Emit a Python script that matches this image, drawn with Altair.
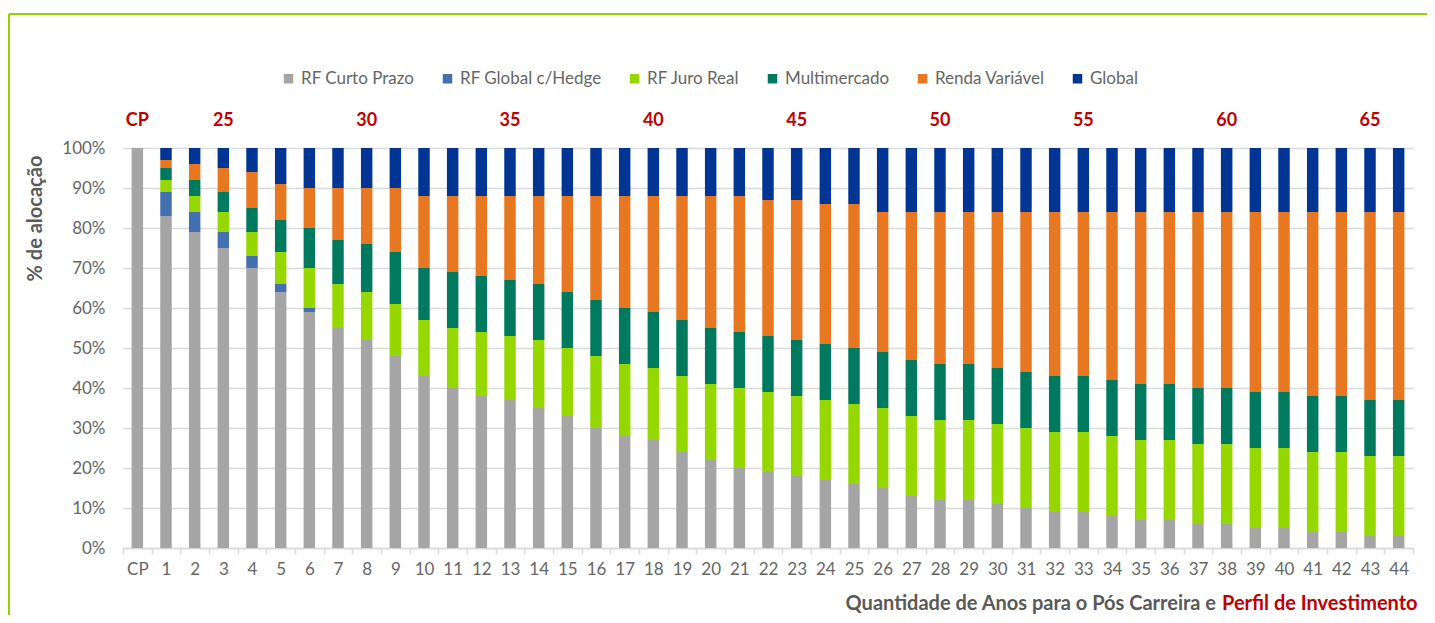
import altair as alt
import pandas as pd

categories = ["CP", "1", "2", "3", "4", "5", "6", "7", "8", "9", "10",
              "11", "12", "13", "14", "15", "16", "17", "18", "19", "20",
              "21", "22", "23", "24", "25", "26", "27", "28", "29", "30",
              "31", "32", "33", "34", "35", "36", "37", "38", "39", "40",
              "41", "42", "43", "44"]

series_names = ["RF Curto Prazo", "RF Global c/Hedge", "RF Juro Real",
                "Multimercado", "Renda Variável", "Global"]
series_colors = ["#A5A5A5", "#4470B0", "#97D700", "#007A5E", "#E87722", "#003594"]

rf_curto_prazo = [100, 83, 79, 75, 70, 64, 59, 55, 52, 48, 43,
                  40, 38, 37, 35, 33, 30, 28, 27, 24, 22,
                  20, 19, 18, 17, 16, 15, 13, 12, 12, 11,
                  10, 9, 9, 8, 7, 7, 6, 6, 5, 5,
                  4, 4, 3, 3]
rf_global_hedge = [0, 6, 5, 4, 3, 2, 1, 0, 0, 0, 0,
                   0, 0, 0, 0, 0, 0, 0, 0, 0, 0,
                   0, 0, 0, 0, 0, 0, 0, 0, 0, 0,
                   0, 0, 0, 0, 0, 0, 0, 0, 0, 0,
                   0, 0, 0, 0]
rf_juro_real = [0, 3, 4, 5, 6, 8, 10, 11, 12, 13, 14,
                15, 16, 16, 17, 17, 18, 18, 18, 19, 19,
                20, 20, 20, 20, 20, 20, 20, 20, 20, 20,
                20, 20, 20, 20, 20, 20, 20, 20, 20, 20,
                20, 20, 20, 20]
multimercado = [0, 3, 4, 5, 6, 8, 10, 11, 12, 13, 13,
                14, 14, 14, 14, 14, 14, 14, 14, 14, 14,
                14, 14, 14, 14, 14, 14, 14, 14, 14, 14,
                14, 14, 14, 14, 14, 14, 14, 14, 14, 14,
                14, 14, 14, 14]
renda_variavel = [0, 2, 4, 6, 9, 9, 10, 13, 14, 16, 18,
                  19, 20, 21, 22, 24, 26, 28, 29, 31, 33,
                  34, 34, 35, 35, 36, 35, 37, 38, 38, 39,
                  40, 41, 41, 42, 43, 43, 44, 44, 45, 45,
                  46, 46, 47, 47]
global_ = [0, 3, 4, 5, 6, 9, 10, 10, 10, 10, 12,
           12, 12, 12, 12, 12, 12, 12, 12, 12, 12,
           12, 13, 13, 14, 14, 16, 16, 16, 16, 16,
           16, 16, 16, 16, 16, 16, 16, 16, 16, 16,
           16, 16, 16, 16]

age_label_cats = ["CP", "3", "8", "13", "18", "23", "28", "33", "38", "43"]
age_label_texts = ["CP", "25", "30", "35", "40", "45", "50", "55", "60", "65"]

x_title_a = "Quantidade de Anos para o Pós Carreira e"
x_title_b = "Perfil de Investimento"
y_title = "% de alocação"

FONT = "Lato"
GRID = "#D9D9D9"
TXT = "#666666"

all_series = [rf_curto_prazo, rf_global_hedge, rf_juro_real,
              multimercado, renda_variavel, global_]
rows = []
for si, (name, vals) in enumerate(zip(series_names, all_series)):
    for c, v in zip(categories, vals):
        rows.append({"cat": c, "serie": name, "idx": si, "val": v})
df = pd.DataFrame(rows)

top_df = pd.DataFrame({"cat": age_label_cats, "label": age_label_texts})
one = pd.DataFrame({"a": [0]})

x_enc = alt.X(
    "cat:N", sort=categories,
    scale=alt.Scale(paddingInner=0, paddingOuter=0),
    axis=alt.Axis(title=None, labelAngle=0, tickBand="extent",
                  domainColor=GRID, domainWidth=1.5, tickColor=GRID,
                  tickSize=6, tickWidth=1.5, labelFont=FONT, labelFontSize=17,
                  labelColor=TXT, labelPadding=7, grid=False),
)

bars = alt.Chart(df).mark_bar(width=alt.RelativeBandSize(0.4)).encode(
    x=x_enc,
    y=alt.Y("val:Q", stack="zero",
            scale=alt.Scale(domain=[0, 100], nice=False),
            axis=alt.Axis(values=list(range(0, 101, 10)),
                          labelExpr="datum.value + '%'",
                          title=y_title, grid=True, gridColor=GRID,
                          gridWidth=1.5, domain=False, ticks=False,
                          labelPadding=18, labelFont=FONT, labelFontSize=17,
                          labelColor=TXT, titleX=-88, titleY=70,
                          titleAngle=270, titleAlign="center",
                          titleBaseline="middle", titleFont=FONT,
                          titleFontWeight="bold", titleColor="#595959",
                          titleFontSize=20)),
    color=alt.Color("serie:N",
                    scale=alt.Scale(domain=series_names, range=series_colors),
                    legend=alt.Legend(title=None, orient="none", legendX=157,
                                      legendY=-78, direction="horizontal",
                                      symbolType="square", symbolSize=90,
                                      symbolStrokeWidth=0, labelFont=FONT,
                                      labelFontSize=17, labelColor=TXT,
                                      columnPadding=24, padding=0)),
    order=alt.Order("idx:Q", sort="ascending"),
)

top_labels = alt.Chart(top_df).mark_text(
    font=FONT, fontSize=18, fontWeight="bold", color="#C00000", baseline="middle"
).encode(
    x=alt.X("cat:N", sort=categories),
    y=alt.value(-27),
    text="label:N",
)

title_a = alt.Chart(one).mark_text(
    align="right", baseline="middle", font=FONT, fontSize=20,
    fontWeight="bold", color="#595959"
).encode(x=alt.value(1093), y=alt.value(456), text=alt.value(x_title_a))

title_b = alt.Chart(one).mark_text(
    align="left", baseline="middle", font=FONT, fontSize=20,
    fontWeight="bold", color="#C00000"
).encode(x=alt.value(1099), y=alt.value(456), text=alt.value(x_title_b))

frame_top = alt.Chart(one).mark_rule(color="#96D200", strokeWidth=2).encode(
    x=alt.value(-114), x2=alt.value(1304), y=alt.value(-134))
frame_left = alt.Chart(one).mark_rule(color="#96D200", strokeWidth=2).encode(
    x=alt.value(-114), y=alt.value(-134), y2=alt.value(467))

chart = alt.layer(frame_top, frame_left, bars, top_labels, title_a, title_b).properties(
    width=1290, height=400,
    padding={"left": 115, "top": 140, "right": 14, "bottom": 67},
    autosize=alt.AutoSizeParams(type="none"),
).configure_view(stroke=None)

chart.save("out.html", embed_options={"renderer": "svg", "actions": False})
